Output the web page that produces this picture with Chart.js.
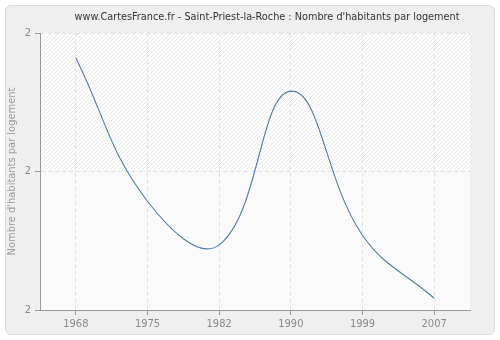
<!DOCTYPE html>
<html>
<head>
<meta charset="utf-8">
<script src="https://cdn.jsdelivr.net/npm/chart.js@4"></script>
<style>
	body { margin: 0; background: #fff; }
	#wrap { position: relative; width: 500px; height: 340px; }
	#frame { position: absolute; left: 5px; top: 5px; width: 488px; height: 328px;
		background: #efefef; border: 1px solid #dcdcdc; border-radius: 6px; }
	#box { position: absolute; left: 0; top: 0; width: 500px; height: 340px; }
</style>
</head>
<body>
<div id="wrap">
	<div id="frame"></div>
	<div id="box"><canvas id="chart"></canvas></div>
</div>
<script>
const titleText = "www.CartesFrance.fr - Saint-Priest-la-Roche : Nombre d'habitants par logement";
const yTitle = "Nombre d'habitants par logement";
const years = ['1968', '1975', '1982', '1990', '1999', '2007'];
const perHousing = [2.164, 1.957, 1.894, 2.116, 1.908, 1.817];
const yMin = 1.8;
const yMax = 2.2;
const yStep = 0.2;

const fontFam = "'DejaVu Sans Condensed', 'Liberation Sans', sans-serif";

// hatched tile for the upper half of the plot
const tile = document.createElement('canvas');
tile.width = 4; tile.height = 4;
const tctx = tile.getContext('2d');
tctx.fillStyle = '#ffffff';
tctx.fillRect(0, 0, 4, 4);
tctx.fillStyle = '#e6e6e6';
for (let i = 0; i < 4; i++) tctx.fillRect(i, 3 - i, 1, 1);

const plotBg = {
	id: 'plotBg',
	beforeDraw(chart) {
		const a = chart.chartArea, ctx = chart.ctx;
		const mid = chart.scales.y.getPixelForValue((yMin + yMax) / 2);
		ctx.save();
		ctx.fillStyle = ctx.createPattern(tile, 'repeat');
		ctx.fillRect(a.left, a.top, a.right - a.left, mid - a.top);
		ctx.fillStyle = '#fafafa';
		ctx.fillRect(a.left, mid, a.right - a.left, a.bottom - mid);
		ctx.restore();
	}
};

const topTitle = {
	id: 'topTitle',
	afterDraw(chart) {
		const ctx = chart.ctx;
		ctx.save();
		ctx.font = "10.8px " + fontFam;
		ctx.fillStyle = '#333';
		ctx.textAlign = 'center';
		ctx.textBaseline = 'middle';
		ctx.fillText(titleText, 267, 17);
		ctx.restore();
	}
};

const config = {
	type: 'line',
	data: {
		labels: years,
		datasets: [{
			data: perHousing,
			borderColor: '#4c7bb3',
			borderWidth: 1.1,
			pointRadius: 0,
			fill: false,
			tension: 0.42,
		}]
	},
	options: {
		responsive: true,
		maintainAspectRatio: false,
		animation: false,
		layout: { padding: { top: 33, right: 30, bottom: 5, left: 6 } },
		plugins: {
			legend: { display: false },
			title: { display: false },
			tooltip: { enabled: false },
		},
		scales: {
			x: {
				type: 'category',
				offset: true,
				afterFit(s) { s.height = 25; },
				grid: {
					offset: false,
					color: '#e0e0e0',
					tickBorderDash: [],
					tickColor: '#999',
					tickLength: 5,
				},
				border: { display: true, color: '#999', dash: [4, 3] },
				ticks: { color: '#888', font: { family: fontFam, size: 11 }, padding: 3, maxRotation: 0 },
			},
			y: {
				min: yMin,
				max: yMax,
				afterFit(s) { s.width = 34; },
				grid: {
					color: '#e0e0e0',
					tickBorderDash: [],
					tickColor: '#999',
					tickLength: 5,
				},
				border: { display: true, color: '#999', dash: [4, 3] },
				ticks: {
					stepSize: yStep,
					color: '#888',
					font: { family: fontFam, size: 11 },
					padding: 4,
					callback: v => Math.round(v).toString(),
				},
				title: {
					display: true,
					text: yTitle,
					color: '#999',
					font: { family: fontFam, size: 11 },
					padding: { top: 0, bottom: 2 },
				},
			}
		}
	},
	plugins: [plotBg, topTitle],
};

const chartCtx = document.getElementById('chart');
const chartPlot = new Chart(chartCtx, config);
</script>
</body>
</html>
